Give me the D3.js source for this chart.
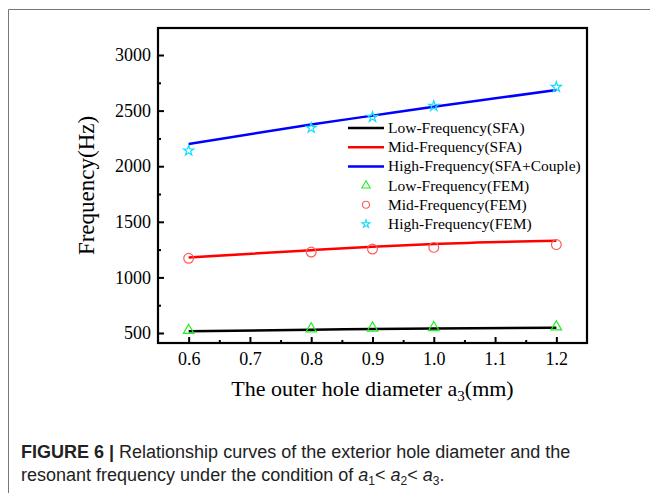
<!DOCTYPE html>
<html>
<head>
<meta charset="utf-8">
<script src="https://cdn.jsdelivr.net/npm/d3@7"></script>
<style>
  body { margin: 0; background: #fff; }
  svg { display: block; }
</style>
</head>
<body>
<div class="canvas"></div>
<script>
// data
const diameters = [0.6, 0.8, 0.9, 1.0, 1.2];
const lowSFA = [515, 530, 535, 540, 548];
const midSFA = [1180, 1245, 1275, 1300, 1330];
const highSFA = [2200, 2375, 2455, 2535, 2685];
const lowFEM = [524, 537, 545, 549, 555];
const midFEM = [1172, 1228, 1255, 1270, 1295];
const highFEM = [2140, 2344, 2442, 2541, 2712];
const yTicks = [500, 1000, 1500, 2000, 2500, 3000];
const xTicks = [0.6, 0.7, 0.8, 0.9, 1.0, 1.1, 1.2];

const width = 650;
const height = 493;
const margins = { top: 28, right: 63, bottom: 150, left: 158 };
const graphWidth = width - margins.left - margins.right;
const graphHeight = height - margins.top - margins.bottom;

const svg = d3
  .select(".canvas")
  .append("svg")
  .attr("width", width)
  .attr("height", height);

// figure frame (left + top)
svg.append("path")
  .attr("d", `M8.5,${height} V9.5 H${width}`)
  .attr("fill", "none")
  .attr("stroke", "#777")
  .attr("stroke-width", 1);

const graph = svg
  .append("g")
  .attr("transform", `translate(${margins.left}, ${margins.top})`);

// scales
const x = d3.scaleLinear().domain([0.55, 1.25]).range([0, graphWidth]);
const y = d3.scaleLinear().domain([410, 3243]).range([graphHeight, 0]);

const serif = "'Liberation Serif', 'Times New Roman', serif";

// axes (ticks inward)
const xAxis = d3.axisBottom(x).tickValues(xTicks).tickSize(-6).tickPadding(9)
  .tickFormat(d3.format(".1f"));
const yAxis = d3.axisLeft(y).tickValues(yTicks).tickSize(-6).tickPadding(7)
  .tickFormat(d3.format("d"));

const xMinor = d3.axisBottom(x)
  .tickValues(d3.range(0.65, 1.2, 0.1)).tickSize(-3).tickFormat("");
const yMinor = d3.axisLeft(y)
  .tickValues(d3.range(750, 3001, 500)).tickSize(-3).tickFormat("");

graph.append("g").attr("transform", `translate(0, ${graphHeight})`).call(xAxis);
graph.append("g").attr("transform", `translate(0, ${graphHeight})`).call(xMinor);
graph.append("g").call(yAxis);
graph.append("g").call(yMinor);

graph.selectAll(".domain").remove();
graph.selectAll(".tick line").attr("stroke", "#000").attr("stroke-width", 2);
graph.selectAll(".tick text")
  .attr("font-family", serif)
  .attr("font-size", 18)
  .attr("fill", "#000");

// frame box
graph.append("rect")
  .attr("width", graphWidth)
  .attr("height", graphHeight)
  .attr("fill", "none")
  .attr("stroke", "#000")
  .attr("stroke-width", 2.2);

// lines
const line = d3.line()
  .x((d, i) => x(diameters[i]))
  .y((d) => y(d))
  .curve(d3.curveMonotoneX);

const lineSeries = [
  { name: "Low-Frequency(SFA)", values: lowSFA, color: "#000000" },
  { name: "Mid-Frequency(SFA)", values: midSFA, color: "#ff0000" },
  { name: "High-Frequency(SFA+Couple)", values: highSFA, color: "#0000ff" },
];

graph.selectAll(".curve")
  .data(lineSeries)
  .enter()
  .append("path")
  .attr("class", "curve")
  .attr("fill", "none")
  .attr("stroke", (d) => d.color)
  .attr("stroke-width", 2.5)
  .attr("d", (d) => line(d.values));

// markers
const pointSeries = [
  { name: "Low-Frequency(FEM)", values: lowFEM, color: "#22ee22", type: d3.symbolTriangle, size: 48, legendSize: 30 },
  { name: "Mid-Frequency(FEM)", values: midFEM, color: "#ff5a5a", type: d3.symbolCircle, size: 75, legendSize: 38 },
  { name: "High-Frequency(FEM)", values: highFEM, color: "#11ddff", type: d3.symbolStar, size: 32, legendSize: 20 },
];

pointSeries.forEach((s) => {
  graph.selectAll(null)
    .data(s.values)
    .enter()
    .append("path")
    .attr("d", d3.symbol().type(s.type).size(s.size)())
    .attr("transform", (d, i) => `translate(${x(diameters[i])}, ${y(d)})`)
    .attr("fill", "none")
    .attr("stroke", s.color)
    .attr("stroke-width", 1.2);
});

// legend
const legend = svg.append("g").attr("transform", "translate(348, 128)");
const rowH = 19.2;
lineSeries.forEach((s, i) => {
  legend.append("line")
    .attr("x1", 0).attr("x2", 36)
    .attr("y1", i * rowH).attr("y2", i * rowH)
    .attr("stroke", s.color).attr("stroke-width", 2.5);
});
pointSeries.forEach((s, i) => {
  legend.append("path")
    .attr("d", d3.symbol().type(s.type).size(s.legendSize)())
    .attr("transform", `translate(18, ${(i + 3) * rowH})`)
    .attr("fill", "none")
    .attr("stroke", s.color)
    .attr("stroke-width", 1.1);
});
lineSeries.concat(pointSeries).forEach((s, i) => {
  legend.append("text")
    .attr("x", 40)
    .attr("y", i * rowH + 5)
    .attr("font-family", serif)
    .attr("font-size", 15.5)
    .text(s.name);
});

// axis titles
const xTitle = svg.append("text")
  .attr("x", margins.left + graphWidth / 2)
  .attr("y", 396)
  .attr("text-anchor", "middle")
  .attr("font-family", serif)
  .attr("font-size", 22);
xTitle.append("tspan").text("The outer hole diameter a");
xTitle.append("tspan").attr("font-size", 15).attr("dy", 5).text("3");
xTitle.append("tspan").attr("dy", -5).text("(mm)");

svg.append("text")
  .attr("transform", `translate(94, ${margins.top + graphHeight / 2}) rotate(-90)`)
  .attr("text-anchor", "middle")
  .attr("font-family", serif)
  .attr("font-size", 23)
  .text("Frequency(Hz)");

// caption
const sans = "'Liberation Sans', Arial, sans-serif";
const cap1 = svg.append("text")
  .attr("x", 21).attr("y", 458)
  .attr("font-family", sans).attr("font-size", 18).attr("fill", "#222");
cap1.append("tspan").attr("font-weight", "bold").text("FIGURE 6 | ");
cap1.append("tspan").text("Relationship curves of the exterior hole diameter and the");

const cap2 = svg.append("text")
  .attr("x", 21).attr("y", 481)
  .attr("font-family", sans).attr("font-size", 18).attr("fill", "#222");
cap2.append("tspan").text("resonant frequency under the condition of ");
[["1", "< "], ["2", "< "], ["3", "."]].forEach(([sub, after]) => {
  cap2.append("tspan").attr("font-style", "italic").text("a");
  cap2.append("tspan").attr("font-size", 12).attr("dy", 4).text(sub);
  cap2.append("tspan").attr("dy", -4).text(after);
});
</script>
</body>
</html>
